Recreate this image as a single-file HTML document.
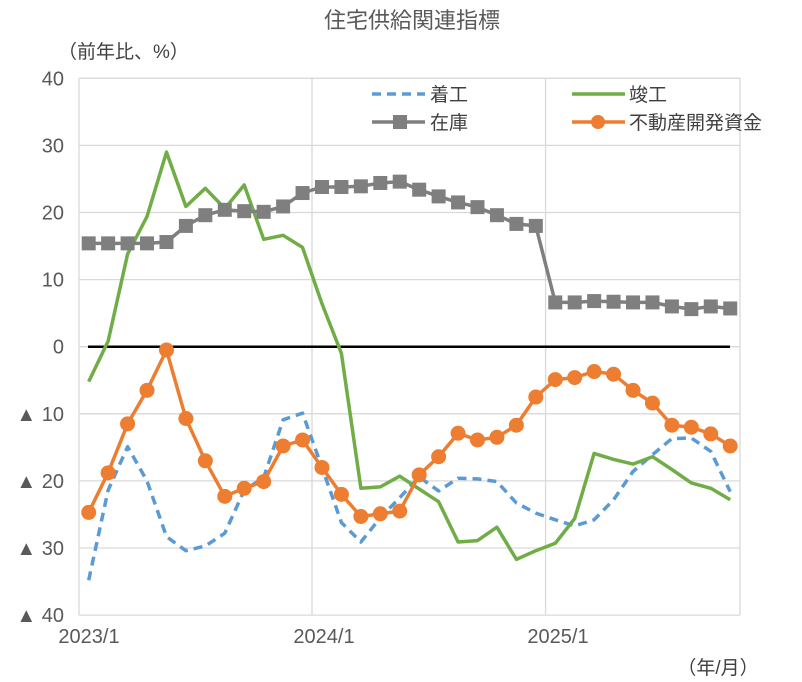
<!DOCTYPE html>
<html><head><meta charset="utf-8">
<style>
body{margin:0;background:#fff;}
svg{display:block;font-family:"Liberation Sans","Noto Sans CJK JP",sans-serif;}
</style></head>
<body>
<svg id="c" width="802" height="682" viewBox="0 0 802 682" xmlns="http://www.w3.org/2000/svg">
<rect width="802" height="682" fill="#fff"/>
<text x="412" y="28" font-size="22" fill="#595959" text-anchor="middle">住宅供給関連指標</text>
<text x="58" y="58" font-size="19" fill="#404040">（前年比、%）</text>
<g id="grid" stroke="#d9d9d9" stroke-width="1.3"></g>
<g id="ylab" font-size="20" fill="#595959" text-anchor="end"></g>
<g font-size="20" fill="#595959" text-anchor="middle">
<text x="89" y="643">2023/1</text>
<text x="324" y="643">2024/1</text>
<text x="558" y="643">2025/1</text>
</g>
<text x="718" y="674" font-size="19" fill="#404040" text-anchor="middle">（年/月）</text>
<line x1="88" y1="346.7" x2="730" y2="346.7" stroke="#000" stroke-width="2.5"/>
<g id="series"></g>
<g font-size="19" fill="#404040">
<line x1="372" y1="94" x2="425" y2="94" stroke="#5b9bd5" stroke-width="3.5" stroke-dasharray="9,6"/>
<text x="430" y="101">着工</text>
<line x1="572" y1="94" x2="625" y2="94" stroke="#70ad47" stroke-width="3.5"/>
<text x="629" y="101">竣工</text>
<line x1="372" y1="122" x2="425" y2="122" stroke="#7f7f7f" stroke-width="3.5"/>
<rect x="393" y="115" width="14" height="14" fill="#7f7f7f"/>
<text x="430" y="129">在庫</text>
<line x1="572" y1="122" x2="625" y2="122" stroke="#ed7d31" stroke-width="3.5"/>
<circle cx="598" cy="122" r="7" fill="#ed7d31"/>
<text x="629" y="129">不動産開発資金</text>
</g>
</svg>
<script>
var NS="http://www.w3.org/2000/svg";
function el(t,a,p){var e=document.createElementNS(NS,t);for(var k in a)e.setAttribute(k,a[k]);if(p)p.appendChild(e);return e;}
function Y(v){return 346.7-v*6.71;}
function X(i){return 88.7+19.44*i;}
var g=document.getElementById("grid"),yl=document.getElementById("ylab");
for(var v=40;v>=-40;v-=10){
 el("line",{x1:79,y1:Y(v),x2:740,y2:Y(v)},g);
 var t=el("text",{x:64,y:Y(v)+7},yl);t.textContent=v<0?"▲ "+(-v):String(v);
}
el("line",{x1:79,y1:78,x2:79,y2:615},g);
el("line",{x1:312,y1:78,x2:312,y2:615},g);
el("line",{x1:545.6,y1:78,x2:545.6,y2:615},g);
el("line",{x1:740,y1:78,x2:740,y2:615},g);
var starts=[-34.8,-21.4,-14.9,-20,-28.3,-30.4,-29.7,-27.8,-21.4,-19.5,-10.9,-9.9,-18,-26.2,-29.1,-25.5,-22.5,-19.4,-21.5,-19.6,-19.7,-20.1,-23.3,-24.8,-25.8,-26.7,-25.8,-22.8,-18.6,-16.1,-13.7,-13.6,-15.6,-21.6];
var comp=[-5.2,0.8,13.8,19.4,29,20.9,23.6,20.6,24.1,16,16.6,14.8,6.4,-1,-21.1,-20.9,-19.3,-21.2,-23.1,-29.1,-28.9,-26.9,-31.7,-30.4,-29.3,-25.6,-15.9,-16.8,-17.5,-16.4,-18.3,-20.3,-21.1,-22.8];
var inv=[15.4,15.4,15.4,15.4,15.6,18,19.6,20.4,20.2,20.1,20.9,22.9,23.8,23.8,23.9,24.4,24.6,23.4,22.4,21.5,20.8,19.6,18.3,18,6.6,6.6,6.8,6.7,6.6,6.6,6,5.6,6,5.7];
var dev=[-24.7,-18.8,-11.5,-6.5,-0.5,-10.7,-17,-22.3,-21.1,-20.1,-14.8,-13.9,-18,-22,-25.3,-24.9,-24.5,-19.1,-16.4,-12.9,-13.9,-13.5,-11.7,-7.5,-4.9,-4.6,-3.7,-4.1,-6.5,-8.4,-11.7,-12,-13,-14.8];
function pts(a){return a.map(function(v,i){return X(i).toFixed(1)+","+Y(v).toFixed(1);}).join(" ");}
var s=document.getElementById("series");
el("polyline",{points:pts(starts),fill:"none",stroke:"#5b9bd5","stroke-width":3.5,"stroke-dasharray":"9,6","stroke-linejoin":"round"},s);
el("polyline",{points:pts(comp),fill:"none",stroke:"#70ad47","stroke-width":3.5,"stroke-linejoin":"round"},s);
el("polyline",{points:pts(inv),fill:"none",stroke:"#7f7f7f","stroke-width":3.5,"stroke-linejoin":"round"},s);
inv.forEach(function(v,i){el("rect",{x:X(i)-7,y:Y(v)-7,width:14,height:14,fill:"#7f7f7f"},s);});
el("polyline",{points:pts(dev),fill:"none",stroke:"#ed7d31","stroke-width":3.5,"stroke-linejoin":"round"},s);
dev.forEach(function(v,i){el("circle",{cx:X(i),cy:Y(v),r:7.5,fill:"#ed7d31"},s);});
</script>
</body></html>
